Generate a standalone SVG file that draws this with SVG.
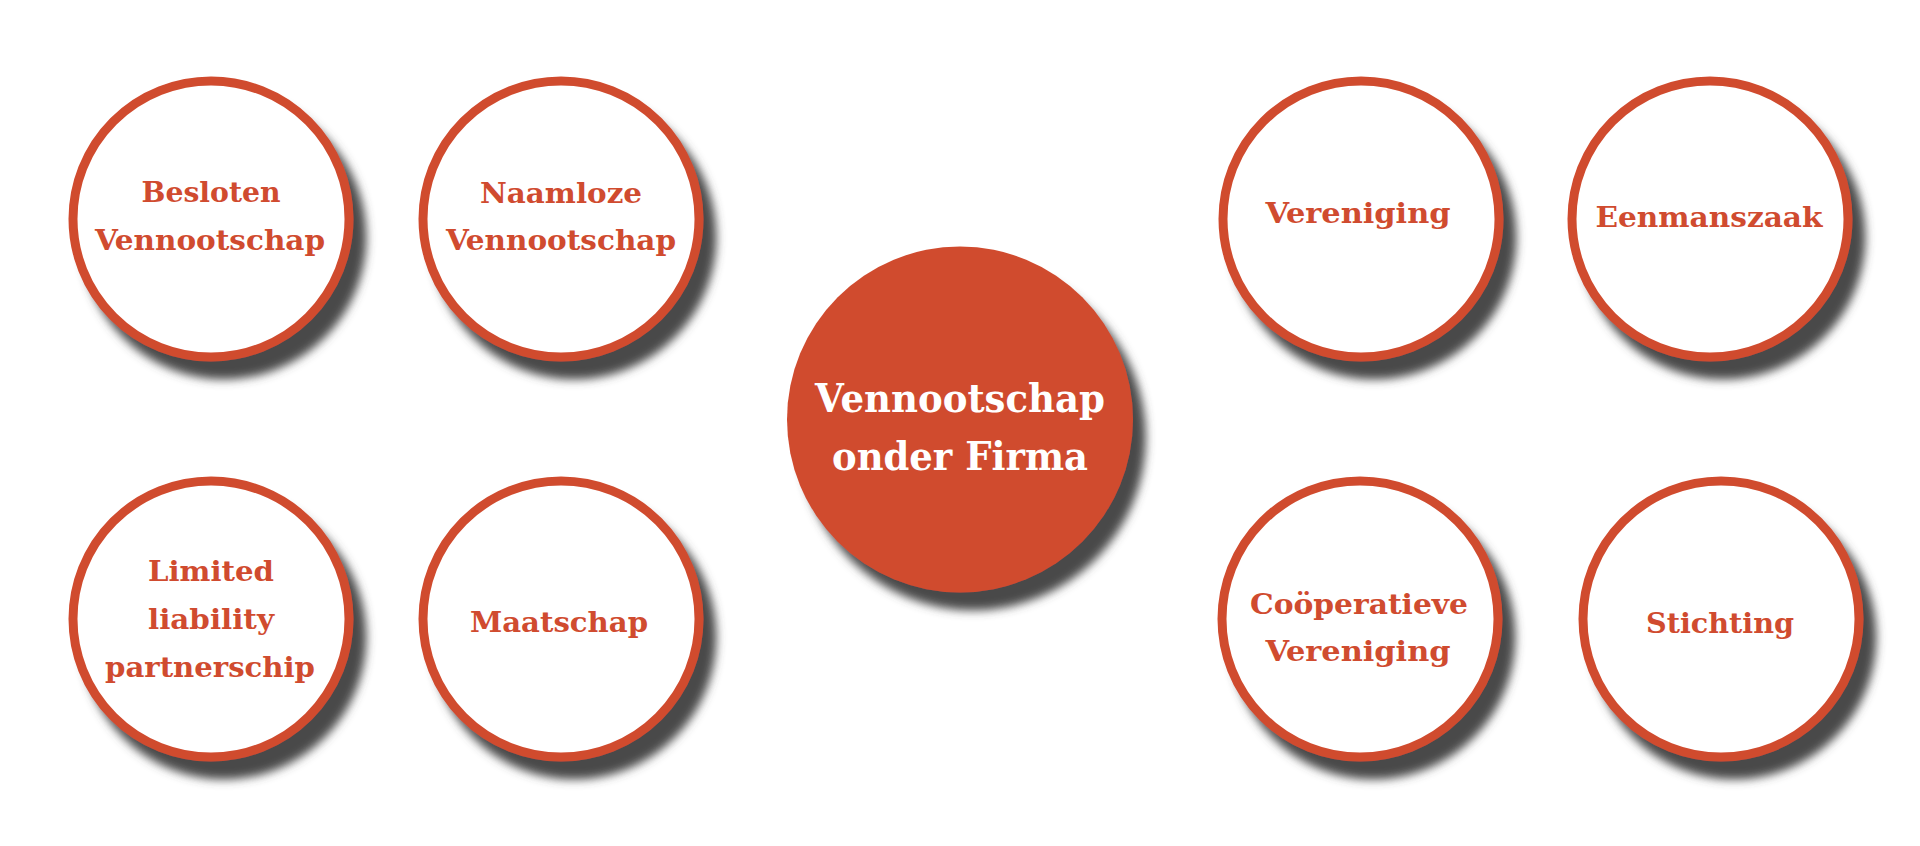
<svg xmlns="http://www.w3.org/2000/svg" width="1920" height="846" viewBox="0 0 1920 846">
<defs>
<filter id="sh" x="-20%" y="-20%" width="150%" height="150%">
<feGaussianBlur in="SourceAlpha" stdDeviation="5"/>
<feOffset dx="13" dy="18" result="b"/>
<feFlood flood-color="#4a4a4a"/>
<feComposite in2="b" operator="in"/>
<feMerge><feMergeNode/><feMergeNode in="SourceGraphic"/></feMerge>
</filter>
</defs>
<style>
.ring{fill:#ffffff;stroke:#D04B2F;stroke-width:9;filter:url(#sh)}
.hub{fill:#D04B2F;filter:url(#sh)}
.t{font-family:"DejaVu Serif Condensed","DejaVu Serif",serif;font-weight:bold;font-size:28px;fill:#D04B2F;text-anchor:middle}
.h{font-family:"DejaVu Serif","Liberation Serif",serif;font-weight:bold;font-size:40px;fill:#ffffff;text-anchor:middle}
</style>
<rect width="1920" height="846" fill="#ffffff"/>
<g id="connectors"></g>
<g id="besloten">
<circle class="ring" cx="211" cy="219" r="138"/>
<text class="t" x="211" y="202" textLength="139" lengthAdjust="spacingAndGlyphs">Besloten</text>
<text class="t" x="210" y="250" textLength="230" lengthAdjust="spacingAndGlyphs">Vennootschap</text>
</g>
<g id="naamloze">
<circle class="ring" cx="561" cy="219" r="138"/>
<text class="t" x="561" y="203" textLength="162" lengthAdjust="spacingAndGlyphs">Naamloze</text>
<text class="t" x="561" y="250" textLength="230" lengthAdjust="spacingAndGlyphs">Vennootschap</text>
</g>
<g id="llp">
<circle class="ring" cx="211" cy="619" r="138"/>
<text class="t" x="211" y="581" textLength="126" lengthAdjust="spacingAndGlyphs">Limited</text>
<text class="t" x="211" y="629" textLength="126" lengthAdjust="spacingAndGlyphs">liability</text>
<text class="t" x="210" y="677" textLength="210" lengthAdjust="spacingAndGlyphs">partnerschip</text>
</g>
<g id="maatschap">
<circle class="ring" cx="561" cy="619" r="138"/>
<text class="t" x="559" y="632" textLength="178" lengthAdjust="spacingAndGlyphs">Maatschap</text>
</g>
<g id="vof">
<circle class="hub" cx="960" cy="419.5" r="173"/>
<text class="h" x="960" y="412" textLength="290" lengthAdjust="spacingAndGlyphs">Vennootschap</text>
<text class="h" x="960" y="470" textLength="256" lengthAdjust="spacingAndGlyphs">onder Firma</text>
</g>
<g id="vereniging">
<circle class="ring" cx="1361" cy="219" r="138"/>
<text class="t" x="1358" y="223" textLength="185" lengthAdjust="spacingAndGlyphs">Vereniging</text>
</g>
<g id="eenmanszaak">
<circle class="ring" cx="1710" cy="219" r="138"/>
<text class="t" x="1709" y="227" textLength="227" lengthAdjust="spacingAndGlyphs">Eenmanszaak</text>
</g>
<g id="cooperatieve">
<circle class="ring" cx="1360" cy="619" r="138"/>
<text class="t" x="1359" y="614" textLength="218" lengthAdjust="spacingAndGlyphs">Coöperatieve</text>
<text class="t" x="1358" y="661" textLength="185" lengthAdjust="spacingAndGlyphs">Vereniging</text>
</g>
<g id="stichting">
<circle class="ring" cx="1721" cy="619" r="138"/>
<text class="t" x="1720" y="633" textLength="148" lengthAdjust="spacingAndGlyphs">Stichting</text>
</g>
</svg>
